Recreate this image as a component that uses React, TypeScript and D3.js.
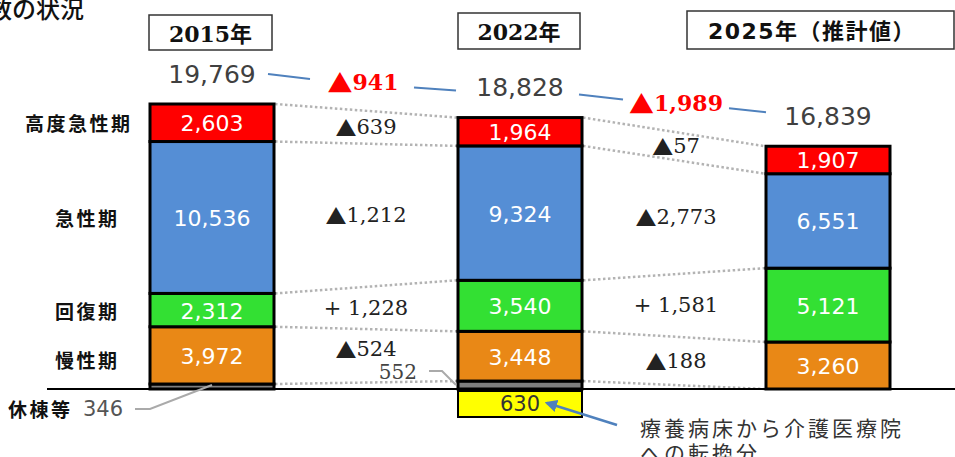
import React from 'react';
import * as d3 from 'd3';

const years = ['2015年', '2022年', '2025年（推計値）'];
const categories = ['休棟等', '慢性期', '回復期', '急性期', '高度急性期']; // bottom → top
const idle = [346, 552, 0];
const chronic = [3972, 3448, 3260];
const recovery = [2312, 3540, 5121];
const acute = [10536, 9324, 6551];
const highAcute = [2603, 1964, 1907];
const totals = [19769, 18828, 16839];
const totalChanges = ['▲941', '▲1,989'];
const highAcuteChanges = ['▲639', '▲57'];
const acuteChanges = ['▲1,212', '▲2,773'];
const recoveryChanges = ['+ 1,228', '+ 1,581'];
const chronicChanges = ['▲524', '▲188'];
const conversion = 630;
const conversionNote = ['療養病床から介護医療院', 'への転換分'];
const title = '病床数の状況';

const colors: Record<string, string> = {
  '休棟等': '#7f7f7f',
  '慢性期': '#e98816',
  '回復期': '#33e033',
  '急性期': '#558ed5',
  '高度急性期': '#ff0000',
};

const fmt = d3.format(',');
const SANS = '"DejaVu Sans", "Noto Sans CJK JP", sans-serif';
const SERIF = '"DejaVu Serif", "Noto Sans CJK JP", serif';
const JP = '"Noto Sans CJK JP", "DejaVu Sans", sans-serif';

function Delta({ label, tri, ...rest }: any) {
  // splits a leading ▲ so it can be drawn in a full-width font
  if (label.startsWith('▲')) {
    return (
      <text {...rest}>
        <tspan fontFamily={JP} fontSize={tri}>▲</tspan>
        <tspan>{label.slice(1)}</tspan>
      </text>
    );
  }
  return <text {...rest}>{label}</text>;
}

export default function App() {
  const W = 955, H = 457;
  const base = 389;
  const rows = years.map((y, i) => ({
    year: y,
    '休棟等': idle[i],
    '慢性期': chronic[i],
    '回復期': recovery[i],
    '急性期': acute[i],
    '高度急性期': highAcute[i],
  }));
  const series = d3.stack<any>().keys(categories)(rows);
  const y = d3.scaleLinear().domain([0, totals[0]]).range([base, 104]);
  const x = d3.scalePoint<string>().domain(years).range([212, 828]);
  const bw = 124;
  const cx = (i: number) => x(years[i]) as number;

  const levels = years.map((_, i) => series.map((s) => s[i][1]));

  const changeSets = [highAcuteChanges, acuteChanges, recoveryChanges, chronicChanges];
  const changeKeys = ['高度急性期', '急性期', '回復期', '慢性期'];

  const totalY = totals.map((t) => y(t) - 30);

  const headerBoxes = [
    { x0: 149, x1: 272, y0: 15, y1: 50, font: SERIF },
    { x0: 458, x1: 580, y0: 13, y1: 49, font: SERIF },
    { x0: 687, x1: 954, y0: 11, y1: 49, font: SANS },
  ];

  const catLabelX: Record<string, number> = {
    '高度急性期': 25, '急性期': 55, '回復期': 55, '慢性期': 55,
  };

  return (
    <svg width={W} height={H} style={{ position: 'absolute', left: 0, top: 0, background: '#fff' }}>
      <defs>
        <marker id="arrow" viewBox="0 0 10 10" refX="8" refY="5" markerWidth="5" markerHeight="5" orient="auto-start-reverse">
          <path d="M0,0 L10,5 L0,10 z" fill="#4f81bd" />
        </marker>
      </defs>

      {/* title (cut off) */}
      <text x={84} y={18} textAnchor="end" fontFamily={JP} fontSize={24} fontWeight={500} fill="#111">{title}</text>

      {/* header boxes */}
      {years.map((yr, i) => {
        const b = headerBoxes[i];
        return (
          <g key={yr}>
            <rect x={b.x0} y={b.y0} width={b.x1 - b.x0} height={b.y1 - b.y0} fill="#fff" stroke="#333" strokeWidth={1.5} />
            <text x={i === 2 ? 812 : (b.x0 + b.x1) / 2} y={(b.y0 + b.y1) / 2 + 1} textAnchor="middle" dominantBaseline="central"
              fontFamily={b.font} fontWeight="bold" fontSize={22} letterSpacing={i === 2 ? 1.5 : 0} fill="#111">{yr}</text>
          </g>
        );
      })}

      {/* dotted connectors */}
      {[0, 1].map((i) =>
        levels[i].map((lv, k) => (
          <line key={`d${i}-${k}`} x1={cx(i) + bw / 2 + 1} x2={cx(i + 1) - bw / 2 - 1}
            y1={y(lv)} y2={y(levels[i + 1][k])} stroke="#b3b3b3" strokeWidth={2.5} strokeDasharray="2.5 2.5" />
        ))
      )}

      {/* baseline */}
      <line x1={47} x2={955} y1={base} y2={base} stroke="#000" strokeWidth={2} />

      {/* bars */}
      {series.map((s) => (
        <g key={s.key}>
          {s.map((d, i) => {
            const h = y(d[0]) - y(d[1]);
            if (h <= 0) return null;
            return (
              <rect key={i} x={cx(i) - bw / 2} y={y(d[1])} width={bw} height={h}
                fill={colors[s.key]} stroke="#000" strokeWidth={3} />
            );
          })}
        </g>
      ))}

      {/* values inside bars */}
      {series.filter((s) => s.key !== '休棟等').map((s) =>
        s.map((d, i) => (
          <text key={`${s.key}${i}`} x={cx(i)} y={(y(d[0]) + y(d[1])) / 2 + 1} textAnchor="middle" dominantBaseline="central"
            fontFamily={SANS} fontSize={22} fill="#fff">{fmt(d[1] - d[0])}</text>
        ))
      )}

      {/* category labels */}
      {changeKeys.map((k) => {
        const s = series.find((ss) => ss.key === k)!;
        const d = s[0];
        let ly = (y(d[0]) + y(d[1])) / 2;
        if (k === '慢性期') ly += 4;
        return (
          <text key={k} x={catLabelX[k]} y={ly} dominantBaseline="central" fontFamily={JP} fontWeight="bold"
            fontSize={19} letterSpacing={2.5} fill="#111">{k}</text>
        );
      })}
      <text x={8} y={408} dominantBaseline="central" fontFamily={JP} fontWeight="bold" fontSize={19} letterSpacing={2.5} fill="#111">休棟等</text>
      <text x={83} y={409} dominantBaseline="central" fontFamily={SANS} fontSize={21} fill="#555">{fmt(idle[0])}</text>
      <polyline points={`135,409 150,409 ${cx(0)},${y(idle[0]) + 1}`} fill="none" stroke="#aaa" strokeWidth={2} />

      {/* 552 label */}
      <text x={417} y={372} textAnchor="end" dominantBaseline="central" fontFamily={SERIF} fontSize={20} fill="#444">{fmt(idle[1])}</text>
      <polyline points={`429,371 442,371 ${cx(1) - bw / 2 - 2},${y(idle[1] / 2)}`} fill="none" stroke="#aaa" strokeWidth={2} />

      {/* segment change labels */}
      {[0, 1].map((i) =>
        changeKeys.map((k, j) => {
          const s = series.find((ss) => ss.key === k)!;
          const m1 = (y(s[i][0]) + y(s[i][1])) / 2;
          const m2 = (y(s[i + 1][0]) + y(s[i + 1][1])) / 2;
          let ly = (m1 + m2) / 2;
          if (k === '慢性期' && i === 0) ly -= 7;
          const lx = (cx(i) + cx(i + 1)) / 2 + (i === 1 ? 2 : 0);
          return (
            <Delta key={`c${i}${j}`} label={changeSets[j][i]} tri={21} x={lx} y={ly} textAnchor="middle" dominantBaseline="central"
              fontFamily={SERIF} fontSize={21} fill="#222" />
          );
        })
      )}

      {/* totals */}
      {totals.map((t, i) => (
        <text key={`t${i}`} x={cx(i)} y={totalY[i]} textAnchor="middle" dominantBaseline="central"
          fontFamily={SANS} fontSize={25} fill="#404040">{fmt(t)}</text>
      ))}
      {/* total trend segments */}
      <line x1={cx(0) + 56} y1={totalY[0]} x2={cx(0) + 98} y2={totalY[0] + 5} stroke="#4f81bd" strokeWidth={2} />
      <line x1={cx(1) - 106} y1={totalY[1]} x2={cx(1) - 64} y2={totalY[1] + 3} stroke="#4f81bd" strokeWidth={2} />
      <line x1={cx(1) + 59} y1={totalY[1] + 7} x2={cx(1) + 103} y2={totalY[1] + 12} stroke="#4f81bd" strokeWidth={2} />
      <line x1={cx(2) - 99} y1={totalY[2] - 8} x2={cx(2) - 62} y2={totalY[2] - 4} stroke="#4f81bd" strokeWidth={2} />
      {totalChanges.map((c, i) => (
        <Delta key={`tc${i}`} label={c} tri={25} x={(cx(i) + cx(i + 1)) / 2 + (i === 0 ? -3 : 2)} y={(totalY[i] + totalY[i + 1]) / 2 + 1}
          textAnchor="middle" dominantBaseline="central" fontFamily={SERIF} fontWeight="bold" fontSize={22} fill="#ff0000" />
      ))}

      {/* conversion box */}
      <rect x={cx(1) - bw / 2} y={base + 2} width={bw} height={26} fill="#ffff00" stroke="#000" strokeWidth={2} />
      <text x={cx(1)} y={base + 15} textAnchor="middle" dominantBaseline="central" fontFamily={SANS} fontSize={21} fill="#333">{conversion}</text>
      <line x1={617} y1={425} x2={547} y2={403} stroke="#4f81bd" strokeWidth={2.5} markerEnd="url(#arrow)" />
      {conversionNote.map((t, i) => (
        <text key={`n${i}`} x={640} y={427 + i * 25} dominantBaseline="central" fontFamily={JP} fontSize={21} letterSpacing={3} fill="#333">{t}</text>
      ))}
    </svg>
  );
}
